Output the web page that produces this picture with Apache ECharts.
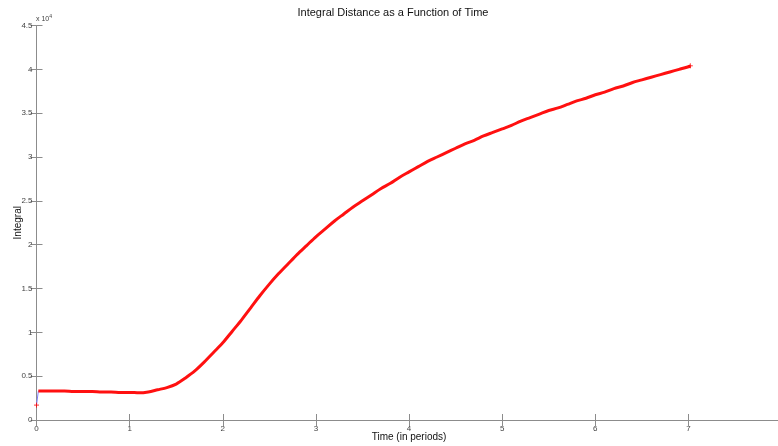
<!DOCTYPE html>
<html>
<head>
<meta charset="utf-8">
<script src="https://cdn.jsdelivr.net/npm/echarts@6/dist/echarts.min.js"></script>
<style>html,body{margin:0;padding:0;background:#fff;}#c{width:778px;height:446px;}</style>
</head>
<body>
<div id="c"></div>
<script>
const times = [0, 0.02, 0.1, 0.2, 0.3, 0.4, 0.5, 0.6, 0.7, 0.8, 0.9, 1.0, 1.1, 1.2, 1.3, 1.4, 1.5, 1.6, 1.7, 1.8, 1.9,
  2.0, 2.1, 2.2, 2.3, 2.4, 2.5, 2.6, 2.7, 2.8, 2.9, 3.0, 3.1, 3.2, 3.3, 3.4, 3.5, 3.6, 3.7, 3.8, 3.9,
  4.0, 4.1, 4.2, 4.3, 4.4, 4.5, 4.6, 4.7, 4.8, 4.9, 5.0, 5.1, 5.2, 5.3, 5.4, 5.5, 5.6, 5.7, 5.8, 5.9,
  6.0, 6.1, 6.2, 6.3, 6.4, 6.5, 6.6, 6.7, 6.8, 6.9, 7.0, 7.02];
const integral = [1700, 3300, 3300, 3300, 3300, 3250, 3250, 3250, 3200, 3200, 3150, 3150, 3100, 3200, 3450, 3700, 4100, 4800, 5600, 6600, 7700,
  8800, 10100, 11400, 12800, 14200, 15500, 16700, 17800, 18900, 19900, 20900, 21800, 22700, 23500, 24300, 25000, 25700, 26400, 27000, 27700,
  28300, 28900, 29500, 30000, 30500, 31000, 31500, 31900, 32400, 32800, 33200, 33600, 34100, 34500, 34900, 35300, 35600, 36000, 36400, 36700,
  37100, 37400, 37800, 38100, 38500, 38800, 39100, 39400, 39700, 40000, 40300, 40400];
const xTicks = [0, 1, 2, 3, 4, 5, 6, 7];
const yTicks = [0, 0.5, 1, 1.5, 2, 2.5, 3, 3.5, 4, 4.5];

const allPts = times.map((t, i) => [t, integral[i]]);
const redPts = allPts.slice(1);
const plus = 'path://M0,5L10,5M5,0L5,10';
const axisCol = '#8c8c8c';
const labStyle = {color: '#444', fontSize: 8, fontFamily: 'Liberation Sans, Arial, sans-serif'};

const chart = echarts.init(document.getElementById('c'));
chart.setOption({
  animation: false,
  title: {text: 'Integral Distance as a Function of Time', left: 388, textAlign: 'center', top: 2,
    textStyle: {fontSize: 11, fontWeight: 'normal', color: '#111', fontFamily: 'Liberation Sans, Arial, sans-serif'}},
  grid: {left: 36.5, right: -3.6, top: 25.5, bottom: 26, containLabel: false, outerBoundsMode: 'none'},
  graphic: [{type: 'text', left: 36, top: 14, style: {
    text: '{a|x 10}{b|4}', rich: {a: {fontSize: 7, fill: '#444', fontFamily: 'Liberation Sans, Arial'}, b: {fontSize: 5, fill: '#444', verticalAlign: 'top', padding: [0,0,5,0]}}}}],
  xAxis: [{type: 'value', min: 0, max: 8, interval: 1, position: 'bottom',
    name: 'Time (in periods)', nameLocation: 'middle', nameGap: 12, nameMoveOverlap: false,
    nameTextStyle: {fontSize: 10, color: '#111', fontFamily: 'Liberation Sans, Arial, sans-serif'},
    axisLine: {show: true, onZero: false, lineStyle: {color: axisCol, width: 1}},
    axisTick: {show: true, inside: true, length: 6, lineStyle: {color: axisCol}},
    axisLabel: Object.assign({margin: 5, formatter: v => xTicks.includes(v) ? String(v) : ''}, labStyle),
    splitLine: {show: false}},
    {type: 'value', min: 0, max: 8, interval: 1, position: 'top',
    axisLine: {show: true, lineStyle: {color: axisCol, width: 1}},
    axisTick: {show: true, inside: true, length: 6, lineStyle: {color: axisCol}},
    axisLabel: {show: false}, splitLine: {show: false}}],
  yAxis: [{type: 'value', min: 0, max: 45000, interval: 5000, position: 'left',
    name: 'Integral', nameLocation: 'middle', nameGap: 13, nameRotate: 90, nameMoveOverlap: false,
    nameTextStyle: {fontSize: 10, color: '#111', fontFamily: 'Liberation Sans, Arial, sans-serif'},
    axisLine: {show: true, onZero: false, lineStyle: {color: axisCol, width: 1}},
    axisTick: {show: true, inside: true, length: 6, lineStyle: {color: axisCol}},
    axisLabel: Object.assign({margin: 4, formatter: v => { const k = v / 10000; return yTicks.includes(k) ? String(k) : ''; }}, labStyle),
    splitLine: {show: false}},
    {type: 'value', min: 0, max: 45000, interval: 5000, position: 'right',
    axisLine: {show: true, lineStyle: {color: axisCol, width: 1}},
    axisTick: {show: true, inside: true, length: 6, lineStyle: {color: axisCol}},
    axisLabel: {show: false}, splitLine: {show: false}}],
  series: [
    {type: 'line', data: allPts, xAxisIndex: 0, yAxisIndex: 0, showSymbol: false, symbol: 'none',
      lineStyle: {color: '#8080ff', width: 1}, z: 1},
    {type: 'line', data: redPts, xAxisIndex: 0, yAxisIndex: 0, showSymbol: false, symbol: 'none', smooth: 0.3,
      lineStyle: {color: '#ff1010', width: 3}, z: 2},
    {type: 'scatter', data: [allPts[0], allPts[allPts.length - 1]], symbol: plus, symbolSize: 5,
      itemStyle: {color: 'transparent', borderColor: '#ff0000', borderWidth: 1}, z: 3}
  ]
});
</script>
</body>
</html>
